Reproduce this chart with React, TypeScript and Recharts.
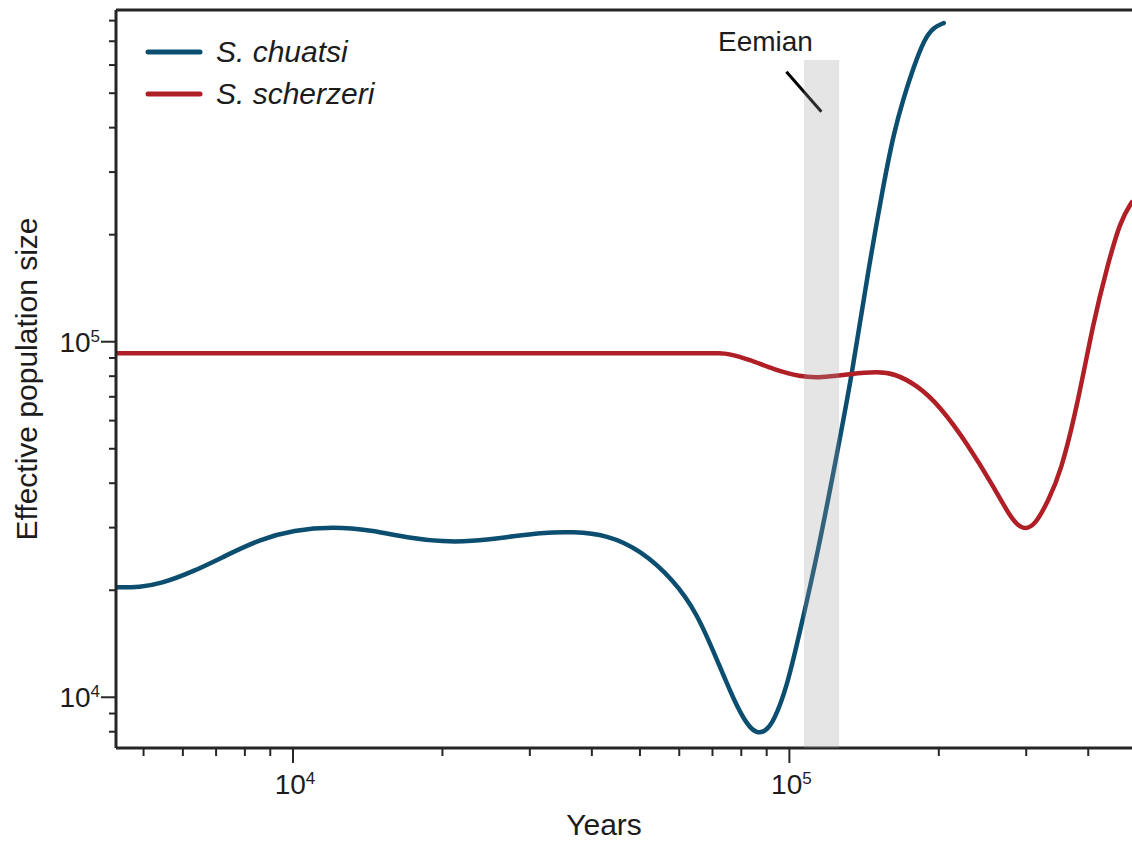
import React from 'react';
import {
  LineChart,
  Line,
  XAxis,
  YAxis,
  ReferenceArea,
  ReferenceLine,
  ReferenceDot,
  Legend,
} from 'recharts';

// PSMC-style effective population size history (log-log)

const chuatsiYears = [
  4400, 4925, 5400, 6300, 7360, 8590, 10030, 12070, 14320, 17230, 20110, 22760,
  27000, 31500, 36760, 42920, 50090, 58470, 65170, 71510, 77230, 82170, 86080,
  89460, 92980, 98940, 105200, 114400, 123800, 133800, 143400, 154900, 162300,
  170000, 178000, 186500, 195300, 204600,
];
const chuatsiNe = [
  20400, 20400, 20830, 22560, 25130, 27820, 29540, 30180, 29540, 28000, 27390, 27420,
  28180, 29040, 29230, 28610, 25960, 21370, 17230, 12730, 9830, 8350, 7900,
  8020, 8540, 10710, 15460, 25960, 45890, 81170, 152300, 279400, 386300,
  487600, 592200, 705200, 767400, 787500,
];

const scherzeriYears = [
  4400, 10000, 20000, 40000, 60000, 68000, 72000, 75500, 83430, 92980, 105200,
  115500, 132900, 150400, 162300, 180800, 201500, 228000, 257900, 278800, 295400,
  313100, 332600, 351600, 379900, 409800, 436700, 464500, 490000,
];
const scherzeriNe = [
  92800, 92800, 92800, 92800, 92800, 92800, 92800, 92600, 88830, 83620, 79700,
  79190, 81170, 82350, 81500, 75540, 65650, 51800, 39100, 32000, 29400,
  30500, 35870, 42650, 65650, 114000, 162500, 219900, 247100,
];

const xTicks = [
  5000, 6000, 7000, 8000, 9000, 10000, 20000, 30000, 40000, 50000, 60000, 70000,
  80000, 90000, 100000, 200000, 300000, 400000,
];
const yTicks = [
  8000, 9000, 10000, 20000, 30000, 40000, 50000, 60000, 70000, 80000, 90000,
  100000, 200000, 300000, 400000, 500000, 600000, 700000, 800000,
];

const X_DOMAIN: [number, number] = [4400, 490000];
const Y_DOMAIN: [number, number] = [7200, 857000];

// Eemian interglacial window and its annotation
const eemianYears: [number, number] = [107000, 126000];
const eemianTop = 620000;
const eemianLabelAt = { t: 89480, n: 658000 };
const eemianPointer = [
  { t: 98630, n: 574500 },
  { t: 116000, n: 443500 },
];

const BLUE = '#0c4e6f';
const RED = '#b01e26';
const AXIS = '#262626';
const TEXT = '#1c1c1c';
const FONT = '"Liberation Sans", Arial, Helvetica, sans-serif';

const series = [
  { name: 'S. chuatsi', color: BLUE, data: chuatsiYears.map((t, i) => ({ t, n: chuatsiNe[i] })) },
  { name: 'S. scherzeri', color: RED, data: scherzeriYears.map((t, i) => ({ t, n: scherzeriNe[i] })) },
];

const isPow10 = (v: number) => {
  const l = Math.log10(v);
  return Math.abs(l - Math.round(l)) < 1e-9;
};

const XTick = (props: any) => {
  const { x, y, payload } = props;
  const v = payload.value;
  const major = isPow10(v);
  return (
    <g>
      <line x1={x} x2={x} y1={y} y2={y + (major ? 15 : 8)} stroke={AXIS} strokeWidth={2} />
      {major && (
        <text x={x + 2} y={y + 46} textAnchor="middle" fontSize={28} fill={TEXT} fontFamily={FONT}>
          <tspan>10</tspan>
          <tspan dy={-10} fontSize={17}>{Math.round(Math.log10(v))}</tspan>
        </text>
      )}
    </g>
  );
};

const YTick = (props: any) => {
  const { x, y, payload } = props;
  const v = payload.value;
  const major = isPow10(v);
  return (
    <g>
      <line x1={x - (major ? 15 : 7)} x2={x} y1={y} y2={y} stroke={AXIS} strokeWidth={2} />
      {major && (
        <text x={x - 16} y={y + 10} textAnchor="end" fontSize={28} fill={TEXT} fontFamily={FONT}>
          <tspan>10</tspan>
          <tspan dy={-10} fontSize={17}>{Math.round(Math.log10(v))}</tspan>
        </text>
      )}
    </g>
  );
};

const renderLegend = () => (
  <svg width={420} height={120} style={{ display: 'block' }}>
    {series.map((s, i) => (
      <g key={s.name}>
        <line
          x1={148}
          x2={200}
          y1={52 + i * 42}
          y2={52 + i * 42}
          stroke={s.color}
          strokeWidth={5}
          strokeLinecap="round"
        />
        <text
          x={216}
          y={62 + i * 41.6}
          fontSize={30}
          fontStyle="italic"
          fill={TEXT}
          fontFamily={FONT}
        >
          {s.name}
        </text>
      </g>
    ))}
  </svg>
);

const YLabel = (props: any) => {
  const vb = props.viewBox || { x: 0, y: 10, width: 116, height: 738 };
  const cx = vb.x + 37;
  const cy = vb.y + vb.height / 2;
  return (
    <text
      x={cx}
      y={cy}
      transform={`rotate(-90, ${cx}, ${cy})`}
      textAnchor="middle"
      fontSize={30}
      fill={TEXT}
      fontFamily={FONT}
    >
      Effective population size
    </text>
  );
};

const XLabel = (props: any) => {
  const vb = props.viewBox || { x: 116, y: 748, width: 1016, height: 95 };
  return (
    <text x={vb.x + 488} y={vb.y + 87} textAnchor="middle" fontSize={30} fill={TEXT} fontFamily={FONT}>
      Years
    </text>
  );
};

const EemianLabel = (props: any) => {
  const vb = props.viewBox || { x: 0, y: 0 };
  return (
    <text x={vb.x} y={vb.y} textAnchor="middle" fontSize={28} fill={TEXT} fontFamily={FONT}>
      Eemian
    </text>
  );
};

export default function App() {
  return (
    <div style={{ position: 'absolute', left: 0, top: 0, width: 1132, height: 843, background: '#fff' }}>
      <LineChart width={1132} height={843} margin={{ top: 10, right: 0, bottom: 0, left: 0 }}>
        <XAxis
          dataKey="t"
          type="number"
          scale="log"
          domain={X_DOMAIN}
          allowDataOverflow
          ticks={xTicks}
          interval={0}
          height={95}
          tickSize={0}
          tickMargin={0}
          tickLine={false}
          axisLine={{ stroke: AXIS, strokeWidth: 3 }}
          tick={<XTick />}
          label={<XLabel />}
        />
        <YAxis
          dataKey="n"
          type="number"
          scale="log"
          domain={Y_DOMAIN}
          allowDataOverflow
          ticks={yTicks}
          interval={0}
          width={116}
          tickSize={0}
          tickMargin={0}
          tickLine={false}
          axisLine={{ stroke: AXIS, strokeWidth: 3 }}
          tick={<YTick />}
          label={<YLabel />}
        />
        <ReferenceLine y={Y_DOMAIN[1]} stroke={AXIS} strokeWidth={3} ifOverflow="visible" />
        {series.map((s) => (
          <Line
            key={s.name}
            data={s.data}
            dataKey="n"
            name={s.name}
            type="basis"
            stroke={s.color}
            strokeWidth={4.5}
            strokeLinecap="round"
            strokeLinejoin="round"
            dot={false}
            activeDot={false}
            isAnimationActive={false}
          />
        ))}
        <ReferenceArea
          x1={eemianYears[0]}
          x2={eemianYears[1]}
          y1={Y_DOMAIN[0]}
          y2={eemianTop}
          fill="#a0a0a0"
          fillOpacity={0.27}
          stroke="none"
          ifOverflow="visible"
          zIndex={1000}
        />
        <ReferenceLine
          segment={[
            { x: eemianPointer[0].t, y: eemianPointer[0].n },
            { x: eemianPointer[1].t, y: eemianPointer[1].n },
          ]}
          stroke="#000"
          strokeWidth={3}
          ifOverflow="visible"
        />
        <ReferenceDot
          x={eemianLabelAt.t}
          y={eemianLabelAt.n}
          r={0}
          fill="none"
          stroke="none"
          ifOverflow="visible"
          label={<EemianLabel />}
        />
        <Legend
          layout="horizontal"
          verticalAlign="middle"
          align="center"
          content={renderLegend}
          wrapperStyle={{ position: 'absolute', top: 0, left: 0, width: 420, height: 120 }}
        />
      </LineChart>
    </div>
  );
}
